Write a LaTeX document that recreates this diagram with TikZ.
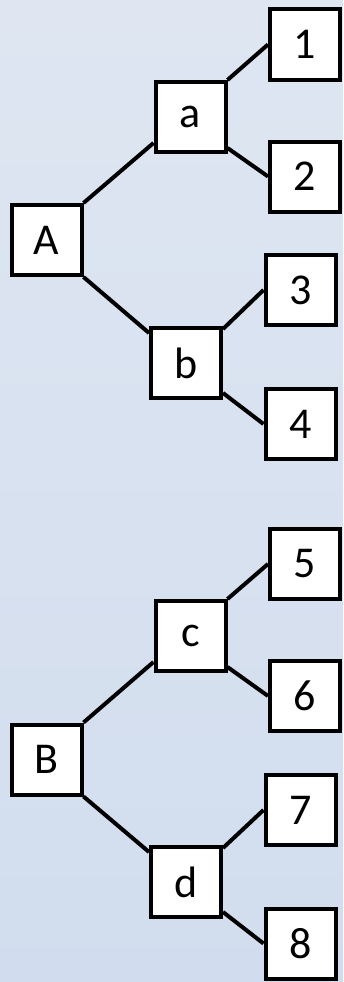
\documentclass[tikz,border=0pt]{standalone}
\usepackage{fontspec}
\setmainfont{Carlito}
\usetikzlibrary{calc}
\definecolor{bgtop}{HTML}{DFE6F2}
\definecolor{bgbot}{HTML}{D1DDEE}
\pgfdeclarelayer{back}
\pgfdeclarelayer{lines}
\pgfsetlayers{back,lines,main}
\tikzset{
  treebox/.style={draw=black, fill=white, line width=4pt, minimum width=70pt, minimum height=70pt, inner sep=0pt, font=\fontsize{44}{50}\selectfont},
  conn/.style={draw=black, line width=4pt}
}
\begin{document}
\begin{tikzpicture}[x=1pt,y=-1pt]
\begin{pgfonlayer}{back}
\shade[top color=bgtop, bottom color=bgbot] (0,0) rectangle (343,982);
\end{pgfonlayer}
\useasboundingbox (0,0) rectangle (343,982);
% top tree
\node[treebox] (A) at (46.5,240) {A};
\node[treebox] (a) at (190.5,117) {a};
\node[treebox] (b) at (186,363) {b};
\node[treebox] (n1) at (305,44.5) {1};
\node[treebox] (n2) at (305,176.5) {2};
\node[treebox] (n3) at (300.5,290) {3};
\node[treebox] (n4) at (300.5,424) {4};
% bottom tree
\node[treebox] (B) at (46.5,759.5) {B};
\node[treebox] (c) at (190.5,636) {c};
\node[treebox] (d) at (186,882) {d};
\node[treebox] (n5) at (305,564) {5};
\node[treebox] (n6) at (305,696) {6};
\node[treebox] (n7) at (300.5,810) {7};
\node[treebox] (n8) at (300.5,943.5) {8};
\begin{pgfonlayer}{lines}
\draw[conn] (A.north east) -- ($(a.south west)+(0,-11)$);
\draw[conn] (A.south east) -- ($(b.north west)+(0,7)$);
\draw[conn] (a.north east) -- (n1.west);
\draw[conn] ($(a.south east)+(0,-6)$) -- (n2.west);
\draw[conn] ($(b.north east)+(0,3)$) -- (n3.west);
\draw[conn] ($(b.south east)+(0,-7)$) -- (n4.west);
\draw[conn] (B.north east) -- ($(c.south west)+(0,-11)$);
\draw[conn] (B.south east) -- ($(d.north west)+(0,7)$);
\draw[conn] (c.north east) -- (n5.west);
\draw[conn] ($(c.south east)+(0,-6)$) -- (n6.west);
\draw[conn] ($(d.north east)+(0,3)$) -- (n7.west);
\draw[conn] ($(d.south east)+(0,-7)$) -- (n8.west);
\end{pgfonlayer}
\end{tikzpicture}
\end{document}
